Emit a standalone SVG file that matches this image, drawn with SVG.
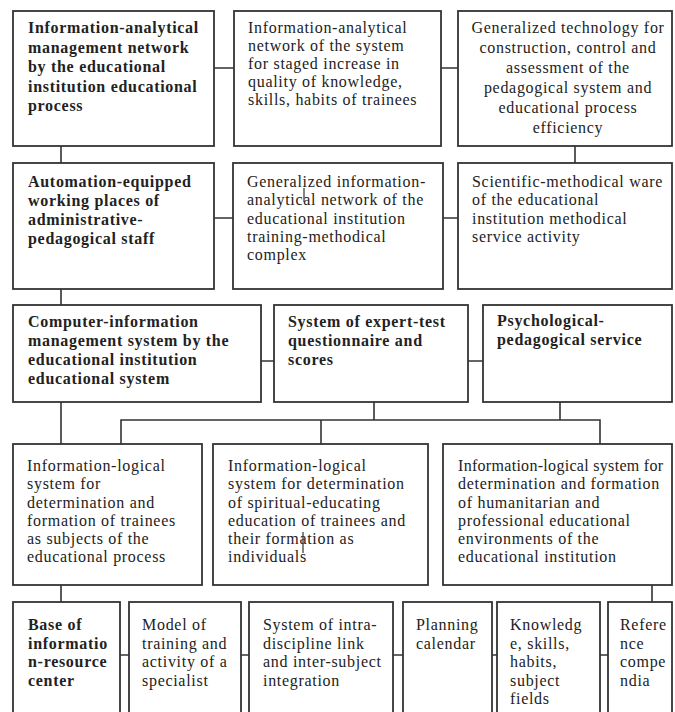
<svg xmlns="http://www.w3.org/2000/svg" width="675" height="712" viewBox="0 0 675 712">
<style>
.box{fill:#fff;stroke:#333;stroke-width:1.8}
.c{fill:none;stroke:#333;stroke-width:1.6}
.t{font-family:"Liberation Serif",serif;font-size:16px;letter-spacing:0.7px;fill:#222}
.b{font-weight:bold}
.m{text-anchor:middle}
</style>
<rect width="675" height="712" fill="#fff"/>
<g id="connectors">
<path class="c" d="M214 68H234M441 68H458M214 218H233M443 218H458M261 361H274M468 361H483"/>
<path class="c" d="M61 146V163M575 146V163M61 289V305M61 402V444M61 585V602M652 585V602"/>
<path class="c" d="M374 402V420M560 402V420M121 444V420H600V444M321 420V444"/>
<path class="c" d="M120 655H129M241 655H249M393 655H403M492 655H497M600 655H608"/>
</g>
<g id="n1"><rect class="box" x="13" y="11" width="201" height="135"/>
<text class="t b" x="28"><tspan x="28" y="33">Information-analytical</tspan><tspan x="28" y="52.5">management network</tspan><tspan x="28" y="72">by the educational</tspan><tspan x="28" y="91.5">institution  educational</tspan><tspan x="28" y="111">process</tspan></text></g>
<g id="n2"><rect class="box" x="234" y="11" width="207" height="135"/>
<text class="t"><tspan x="248" y="33">Information-analytical</tspan><tspan x="248" y="51">network of the system</tspan><tspan x="248" y="69">for staged increase in</tspan><tspan x="248" y="87">quality of knowledge,</tspan><tspan x="248" y="105">skills, habits of trainees</tspan></text></g>
<g id="n3"><rect class="box" x="458" y="11" width="214" height="135"/>
<text class="t m"><tspan x="568" y="33">Generalized technology for</tspan><tspan x="568" y="53">construction, control and</tspan><tspan x="568" y="73">assessment  of the</tspan><tspan x="568" y="93">pedagogical  system and</tspan><tspan x="568" y="113">educational process</tspan><tspan x="568" y="133">efficiency</tspan></text></g>
<g id="n4"><rect class="box" x="13" y="163" width="201" height="126"/>
<text class="t b"><tspan x="28" y="187">Automation-equipped</tspan><tspan x="28" y="206">working places of</tspan><tspan x="28" y="225">administrative-</tspan><tspan x="28" y="244">pedagogical staff</tspan></text></g>
<g id="n5"><rect class="box" x="233" y="163" width="210" height="126"/>
<text class="t"><tspan x="247" y="187">Generalized information-</tspan><tspan x="247" y="205">analytical network of the</tspan><tspan x="247" y="223.5">educational institution</tspan><tspan x="247" y="242">training-methodical</tspan><tspan x="247" y="260">complex</tspan></text></g>
<g id="n6"><rect class="box" x="458" y="163" width="214" height="126"/>
<text class="t"><tspan x="472" y="187">Scientific-methodical ware</tspan><tspan x="472" y="205">of the educational</tspan><tspan x="472" y="224">institution methodical</tspan><tspan x="472" y="242">service activity</tspan></text></g>
<g id="n7"><rect class="box" x="13" y="305" width="248" height="97"/>
<text class="t b"><tspan x="28" y="327">Computer-information</tspan><tspan x="28" y="346">management system by the</tspan><tspan x="28" y="365">educational institution</tspan><tspan x="28" y="384">educational system</tspan></text></g>
<g id="n8"><rect class="box" x="274" y="305" width="194" height="97"/>
<text class="t b"><tspan x="288" y="327">System of expert-test</tspan><tspan x="288" y="346">questionnaire and</tspan><tspan x="288" y="365">scores</tspan></text></g>
<g id="n9"><rect class="box" x="483" y="305" width="189" height="97"/>
<text class="t b"><tspan x="497" y="326">Psychological-</tspan><tspan x="497" y="345">pedagogical service</tspan></text></g>
<g id="n10"><rect class="box" x="13" y="444" width="189" height="141"/>
<text class="t"><tspan x="27" y="471">Information-logical</tspan><tspan x="27" y="489">system for</tspan><tspan x="27" y="507.5">determination and</tspan><tspan x="27" y="526">formation of trainees</tspan><tspan x="27" y="544">as subjects of the</tspan><tspan x="27" y="562">educational process</tspan></text></g>
<g id="n11"><rect class="box" x="213" y="444" width="215" height="141"/>
<text class="t"><tspan x="228" y="471">Information-logical</tspan><tspan x="228" y="489">system for determination</tspan><tspan x="228" y="507.5">of spiritual-educating</tspan><tspan x="228" y="526">education of trainees and</tspan><tspan x="228" y="544">their formation as</tspan><tspan x="228" y="562">individuals</tspan></text></g>
<g id="n12"><rect class="box" x="443" y="444" width="229" height="141"/>
<text class="t"><tspan x="458" y="471" style="letter-spacing:0.3px">Information-logical system for</tspan><tspan x="458" y="489">determination and formation</tspan><tspan x="458" y="507.5">of humanitarian and</tspan><tspan x="458" y="526">professional  educational</tspan><tspan x="458" y="544">environments  of the</tspan><tspan x="458" y="562">educational institution</tspan></text></g>
<g id="n13"><rect class="box" x="13" y="602" width="107" height="130"/>
<text class="t b"><tspan x="28" y="630">Base of</tspan><tspan x="28" y="648.5">informatio</tspan><tspan x="28" y="667">n-resource</tspan><tspan x="28" y="685.5">center</tspan></text></g>
<g id="n14"><rect class="box" x="129" y="602" width="112" height="130"/>
<text class="t"><tspan x="142" y="630">Model of</tspan><tspan x="142" y="648.5">training and</tspan><tspan x="142" y="667">activity of a</tspan><tspan x="142" y="685.5">specialist</tspan></text></g>
<g id="n15"><rect class="box" x="249" y="602" width="144" height="130"/>
<text class="t"><tspan x="263" y="630">System of intra-</tspan><tspan x="263" y="648.5">discipline link</tspan><tspan x="263" y="667">and inter-subject</tspan><tspan x="263" y="685.5">integration</tspan></text></g>
<g id="n16"><rect class="box" x="403" y="602" width="89" height="130"/>
<text class="t"><tspan x="416" y="630">Planning</tspan><tspan x="416" y="648.5">calendar</tspan></text></g>
<g id="n17"><rect class="box" x="497" y="602" width="103" height="130"/>
<text class="t"><tspan x="510" y="630">Knowledg</tspan><tspan x="510" y="648.5">e, skills,</tspan><tspan x="510" y="667">habits,</tspan><tspan x="510" y="685.5">subject</tspan><tspan x="510" y="704">fields</tspan></text></g>
<g id="n18"><rect class="box" x="608" y="602" width="64" height="130"/>
<text class="t"><tspan x="620" y="630">Refere</tspan><tspan x="620" y="648.5">nce</tspan><tspan x="620" y="667">compe</tspan><tspan x="620" y="685.5">ndia</tspan></text></g>
<g id="marks">
<path class="c" style="stroke-width:1.2" d="M304 188V202M303 532V553"/>
</g>
</svg>
